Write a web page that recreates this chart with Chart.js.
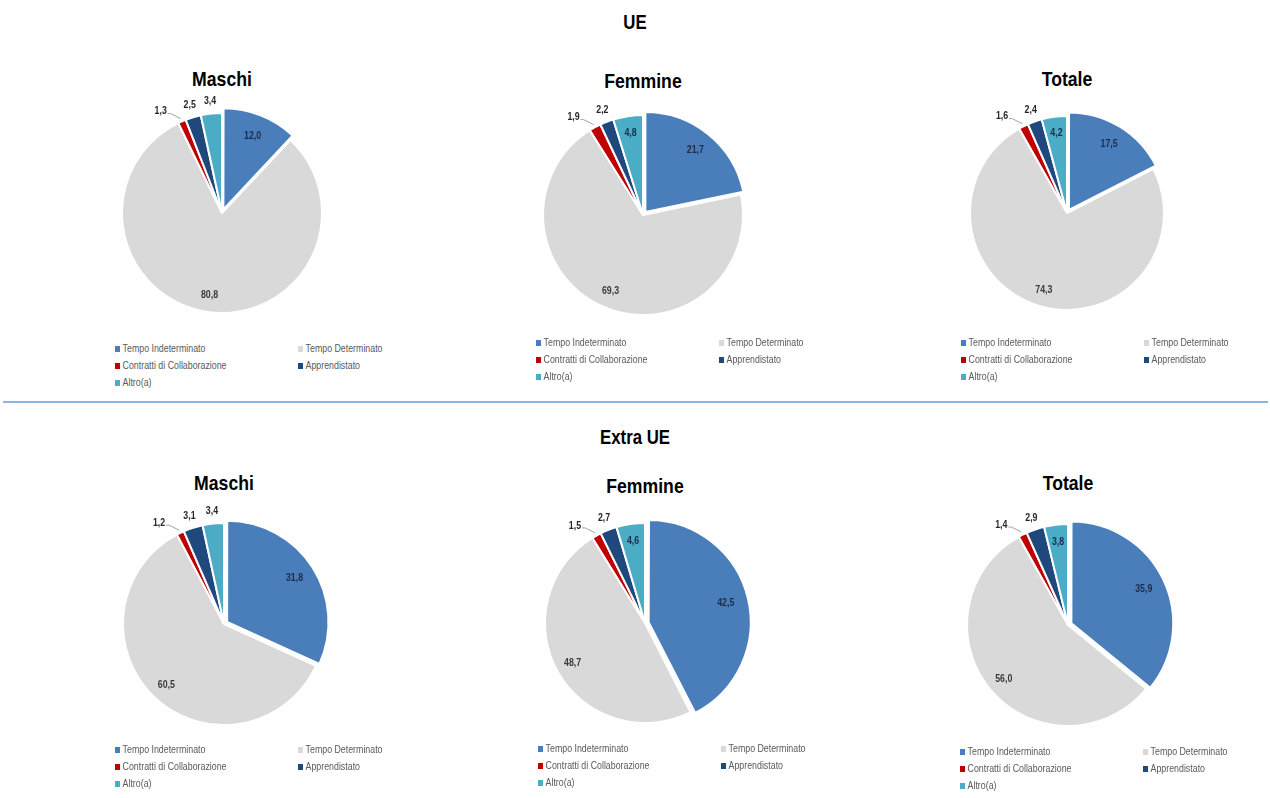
<!DOCTYPE html>
<html>
<head>
<meta charset="utf-8">
<script src="https://cdn.jsdelivr.net/npm/chart.js@4.4.1/dist/chart.umd.min.js"></script>
<style>
  html, body { margin: 0; padding: 0; background: #fff; }
  body { width: 1270px; height: 798px; position: relative; overflow: hidden;
         font-family: 'Liberation Sans', Arial, sans-serif; }
  .h { position: absolute; font-weight: bold; color: #000; text-align: center; white-space: nowrap;
       transform: scaleX(0.84); transform-origin: center; }
  .main { font-size: 20px; width: 300px; left: 485px; }
  .sub { font-size: 21px; width: 200px; }
  canvas { position: absolute; }
  .sep { position: absolute; left: 3px; width: 1265px; top: 401px; height: 2px; background: #8db3e2; }
  .leg { position: absolute; font-size: 10.5px; color: #595959; white-space: nowrap; }
  .leg span.it { position: absolute; display: block; line-height: 12px; transform: scaleX(0.84); transform-origin: left center; }
  .leg i { display: inline-block; width: 6px; height: 6px; margin-right: 3px; vertical-align: 0px; }
</style>
</head>
<body>
<div class="h main" style="top:11px">UE</div>
<div class="h main" style="top:426px">Extra UE</div>
<div class="sep"></div>

<script>
// ---------- DATA ----------
const categories = ['Tempo Indeterminato', 'Tempo Determinato', 'Contratti di Collaborazione', 'Apprendistato', 'Altro(a)'];
const sliceColors = ['#4a7ebb', '#d9d9d9', '#c00000', '#1f497d', '#4bacc6'];
const panelTitles = ['Maschi', 'Femmine', 'Totale'];

const ueMaschi   = [12.0, 80.8, 1.3, 2.5, 3.4];
const ueFemmine  = [21.7, 69.3, 1.9, 2.2, 4.8];
const ueTotale   = [17.5, 74.3, 1.6, 2.4, 4.2];
const extraMaschi  = [31.8, 60.5, 1.2, 3.1, 3.4];
const extraFemmine = [42.5, 48.7, 1.5, 2.7, 4.6];
const extraTotale  = [35.9, 56.0, 1.4, 2.9, 3.8];

// ---------- LAYOUT ----------
const panels = [
  { data: ueMaschi,     title: panelTitles[0], cx: 222,  cy: 213, r: 100, titleY: 67,  legX: 115, legY: 342 },
  { data: ueFemmine,    title: panelTitles[1], cx: 643,  cy: 215, r: 100, titleY: 69,  legX: 536, legY: 336 },
  { data: ueTotale,     title: panelTitles[2], cx: 1067, cy: 213, r: 97,  titleY: 67,  legX: 961, legY: 336 },
  { data: extraMaschi,  title: panelTitles[0], cx: 224,  cy: 624, r: 101, titleY: 471, legX: 115, legY: 743 },
  { data: extraFemmine, title: panelTitles[1], cx: 645,  cy: 623, r: 100, titleY: 474, legX: 538, legY: 742 },
  { data: extraTotale,  title: panelTitles[2], cx: 1068, cy: 625, r: 101, titleY: 471, legX: 960, legY: 745 }
];

const OFFSET = 15, BORDER = 2;
const LABEL_FONT = "bold 10px 'Liberation Sans', Arial, sans-serif";
const fmt = v => v.toFixed(1).replace('.', ',');

function drawNarrow(ctx, text, x, y, align) {
  ctx.save();
  ctx.translate(x, y);
  ctx.scale(0.88, 1);
  ctx.textAlign = align;
  ctx.fillText(text, 0, 0);
  ctx.restore();
}

const labelPlugin = {
  id: 'sliceLabels',
  afterDatasetsDraw(chart) {
    const ctx = chart.ctx;
    const meta = chart.getDatasetMeta(0);
    const vals = chart.data.datasets[0].data;
    ctx.save();
    ctx.font = LABEL_FONT;
    ctx.textBaseline = 'middle';
    meta.data.forEach((arc, i) => {
      const p = arc.getProps(['x', 'y', 'startAngle', 'endAngle', 'outerRadius'], true);
      const mid = (p.startAngle + p.endAngle) / 2;
      const cos = Math.cos(mid), sin = Math.sin(mid);
      const v = vals[i];
      const R = p.outerRadius;
      if (v >= 3.5) {
        const d = 0.83 * R;
        ctx.fillStyle = (i === 1) ? '#3a3a3a' : '#1c2c4c';
        drawNarrow(ctx, fmt(v), p.x + cos * d, p.y + sin * d, 'center');
      } else if (i === 2) {
        const ox = p.x + cos * (R + 3), oy = p.y + sin * (R + 3);
        const lx = ox - 10, ly = oy - 5;
        ctx.strokeStyle = '#8c8c8c';
        ctx.lineWidth = 0.8;
        ctx.beginPath();
        ctx.moveTo(ox, oy);
        ctx.lineTo(lx, ly);
        ctx.lineTo(lx - 3, ly);
        ctx.stroke();
        ctx.fillStyle = '#262626';
        drawNarrow(ctx, fmt(v), lx - 4, ly - 2, 'right');
      } else {
        const d = R + 12;
        ctx.fillStyle = '#262626';
        drawNarrow(ctx, fmt(v), p.x + cos * d, p.y + sin * d, 'center');
      }
    });
    ctx.restore();
  }
};

const CW = 260, CH = 250;
panels.forEach(pn => {
  const t = document.createElement('div');
  t.className = 'h sub';
  t.style.left = (pn.cx - 100) + 'px';
  t.style.top = pn.titleY + 'px';
  t.textContent = pn.title;
  document.body.appendChild(t);

  const cv = document.createElement('canvas');
  cv.width = CW; cv.height = CH;
  cv.style.width = CW + 'px'; cv.style.height = CH + 'px';
  cv.style.left = (pn.cx - CW / 2) + 'px';
  cv.style.top = (pn.cy - CH / 2) + 'px';
  document.body.appendChild(cv);

  const size = 2 * pn.r + BORDER + OFFSET;
  const padX = (CW - size) / 2, padY = (CH - size) / 2;

  new Chart(cv, {
    type: 'pie',
    data: {
      labels: categories,
      datasets: [{
        data: pn.data,
        backgroundColor: sliceColors,
        borderColor: '#ffffff',
        borderWidth: BORDER,
        offset: categories.map((c, i) => i === 0 ? OFFSET : 0)
      }]
    },
    options: {
      responsive: false,
      animation: false,
      devicePixelRatio: 1,
      layout: { padding: { left: padX, right: padX, top: padY, bottom: padY } },
      plugins: { legend: { display: false }, tooltip: { enabled: false }, title: { display: false } }
    },
    plugins: [labelPlugin]
  });

  const lg = document.createElement('div');
  lg.className = 'leg';
  lg.style.left = pn.legX + 'px';
  lg.style.top = pn.legY + 'px';
  categories.forEach((c, i) => {
    const s = document.createElement('span');
    s.className = 'it';
    s.style.left = (i % 2 === 0 ? 0 : 183) + 'px';
    s.style.top = (Math.floor(i / 2) * 17) + 'px';
    const m = document.createElement('i');
    m.style.background = sliceColors[i];
    s.appendChild(m);
    s.appendChild(document.createTextNode(c));
    lg.appendChild(s);
  });
  document.body.appendChild(lg);
});
</script>
</body>
</html>
